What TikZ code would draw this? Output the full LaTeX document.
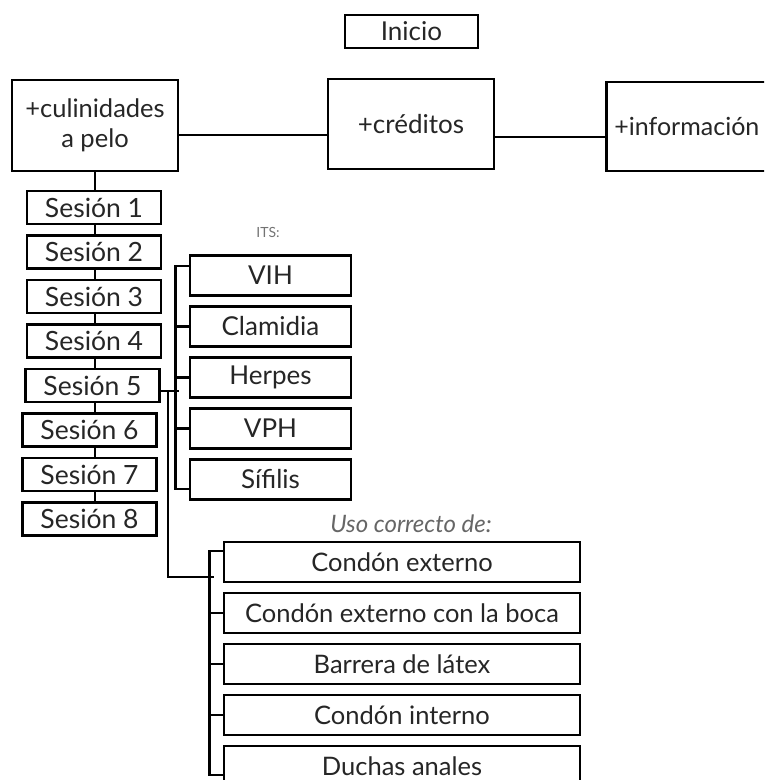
\documentclass[tikz,border=0pt]{standalone}
\usepackage{fontspec}
\setmainfont{Lato}
\usetikzlibrary{positioning}

\begin{document}
\begin{tikzpicture}[x=1pt, y=-1pt,
		box/.style={rectangle, draw=black, line width=2.8pt, fill=white, text=black!85, inner sep=0pt, font=\fontsize{26}{30}\selectfont},
		lnk/.style={black, line width=2.8pt}]
		\useasboundingbox (0,0) rectangle (764,780);
		\clip (0,0) rectangle (764,780);
%		
		\node[box, minimum width=133pt, minimum height=33pt] (inicio) at (411.5,31.5) {Inicio};
		\node[box, minimum width=166pt, minimum height=91pt, align=center, font=\fontsize{25.5}{30}\selectfont] (cul) at (95,125.5) {+culinidades\\a pelo};
		\node[box, minimum width=166pt, minimum height=90pt] (cred) at (411,124) {+créditos};
		\node[box, anchor=west, minimum height=89pt, inner xsep=8pt, text width=165pt, align=left, font=\fontsize{25}{30}\selectfont] (info) at (605,126.5) {+información};
		\draw[lnk] ([yshift=-9.5pt]cul.east) -- ([yshift=-9.5pt]cul.east -| cred.west);
		\draw[lnk] ([yshift=-13pt]cred.east) -- ([yshift=-13pt]cred.east -| info.west);
%		sesiones
		\foreach \i/\x in {1/94,2/94,3/94,4/94,5/92.5,6/89.5,7/89.5,8/89.5}
			\node[box, minimum width=134pt, minimum height=33pt, font=\fontsize{26.5}{30}\selectfont] (s\i) at (\x,{207.5+(\i-1)*44.5}) {Sesión \i};
		\draw[lnk] (cul.south) -- (cul.south |- s1.north);
		\foreach \i [count=\j from 2] in {1,...,7}
			\draw[lnk] (s\i.south -| cul.south) -- (s\j.north -| cul.south);
%		ITS
		\node[font=\fontsize{14}{16}\selectfont, text=black!55] (its) at (268,232) {ITS:};
		\foreach \n [count=\k from 0] in {VIH,Clamidia,Herpes,VPH,Sífilis}
			\node[box, minimum width=161pt, minimum height=40pt] (its\k) at (270.5,{275.5+\k*51}) {\n};
		\draw[lnk] ([yshift=9.5pt]its0.west) -- ++(-13,0) |- ([yshift=-9.5pt]its4.west);
		\foreach \k in {1,2,3}
			\draw[lnk] (its\k.west) -- ++(-13,0);
		\draw[lnk] ([yshift=-5.5pt]s5.east) -- ++(18,0);
		\coordinate (fork) at ([xshift=7pt, yshift=-5.5pt]s5.east);
		\draw[lnk] (fork) |- ++(46,186);
%		uso correcto
		\node[font=\fontsize{24}{28}\selectfont\itshape, text=black!60] (uso) at (411,524) {Uso correcto de:};
		\foreach \n [count=\k from 0] in {Condón externo,Condón externo con la boca,Barrera de látex,Condón interno,Duchas anales}
			\node[box, minimum width=356pt, minimum height=40pt, font=\fontsize{25.5}{30}\selectfont] (c\k) at (402,{562+\k*51}) {\n};
		\draw[lnk] ([yshift=11pt]c0.west) -- ++(-13,0) |- ([yshift=-9pt]c4.west);
		\foreach \k in {1,2,3}
			\draw[lnk] (c\k.west) -- ++(-13,0);
\end{tikzpicture}
\end{document}
